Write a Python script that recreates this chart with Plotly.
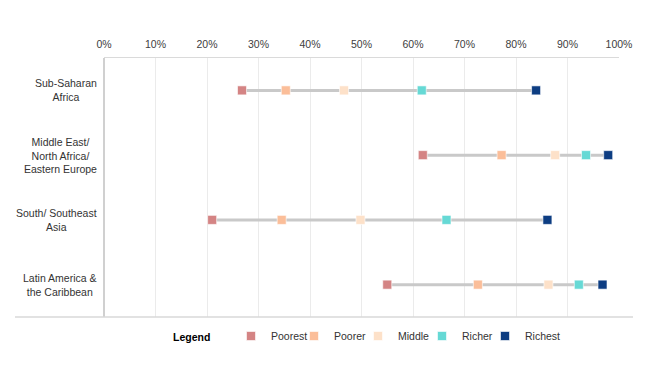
import plotly.graph_objects as go

regions = ["Sub-Saharan<br>Africa", "Middle East/<br>North Africa/<br>Eastern Europe",
           "South/ Southeast<br>Asia", "Latin America &<br>the Caribbean"]
quintiles = ["Poorest", "Poorer", "Middle", "Richer", "Richest"]
poorest = [26.8, 61.9, 21.0, 55.0]
poorer = [35.3, 77.2, 34.5, 72.6]
middle = [46.6, 87.6, 49.8, 86.3]
richer = [61.7, 93.6, 66.5, 92.2]
richest = [83.9, 97.9, 86.1, 96.8]
colors = ["#D48484", "#FBBE99", "#FDE1C9", "#66D9D5", "#0D3D82"]
series = [poorest, poorer, middle, richer, richest]

ypos = list(range(len(regions)))
FONT = "Liberation Sans, Arial"
FS = 10.5

# plot area in page pixels: x 104..619, y 58..317 (page has 8px body offset)
PX0, PW, PY1, PH = 104, 515, 317, 259
def px(x):
    return (x - PX0) / PW
def py(y):
    return (PY1 - y) / PH

fig = go.Figure()

lx, ly = [], []
for i in ypos:
    vals = [s[i] for s in series]
    lx += [min(vals), max(vals), None]
    ly += [i, i, None]
fig.add_trace(go.Scatter(x=lx, y=ly, mode="lines",
                         line=dict(color="#C9C9C9", width=3),
                         showlegend=False, hoverinfo="skip"))

legend_names = ["legend", "legend2", "legend3", "legend4", "legend5"]
for name, vals, c, lg in zip(quintiles, series, colors, legend_names):
    fig.add_trace(go.Scatter(x=vals, y=ypos, mode="markers", name=name, legend=lg,
                             marker=dict(symbol="square", size=9, color=c,
                                         line=dict(color="rgba(255,255,255,0.6)", width=1))))

for i, r in enumerate(regions):
    fig.add_annotation(x=px(98), xref="paper", y=i, yref="y", text=r,
                       xanchor="right", yanchor="middle", align="center",
                       showarrow=False, borderpad=0,
                       font=dict(family=FONT, size=FS, color="#333333"))

fig.add_annotation(x=px(172), xref="paper", y=py(337), yref="paper", text="<b>Legend</b>",
                   xanchor="left", yanchor="middle", showarrow=False, borderpad=0,
                   font=dict(family=FONT, size=FS, color="#000000"))

fig.add_shape(type="line", xref="paper", yref="paper", x0=px(15), x1=px(633), y0=0, y1=0,
              line=dict(color="#D9D9D9", width=1.5))

text_starts = [266, 329, 393, 457, 520]
legend_layout = {}
for lg, ts in zip(legend_names, text_starts):
    legend_layout[lg] = dict(orientation="h", x=px(ts - 35), y=py(336),
                             xanchor="left", yanchor="middle",
                             font=dict(family=FONT, size=FS, color="#333333"),
                             bgcolor="rgba(0,0,0,0)")

fig.update_layout(
    width=640, height=367,
    margin=dict(l=96, r=29, t=50, b=58),
    paper_bgcolor="white", plot_bgcolor="white",
    font=dict(family=FONT, size=FS, color="#404040"),
    xaxis=dict(side="top", range=[0, 100], dtick=10, ticksuffix="%",
               showgrid=True, gridcolor="#EBEBEB", gridwidth=1,
               showline=True, linecolor="#DADADA", linewidth=1, mirror=False,
               zeroline=True, zerolinecolor="#D0D0D0", zerolinewidth=1.5,
               ticks="", ticklabelstandoff=5,
               tickfont=dict(family=FONT, size=FS, color="#404040"), fixedrange=True),
    yaxis=dict(range=[3.5, -0.5], showgrid=False, zeroline=False, showticklabels=False,
               showline=False, fixedrange=True),
    showlegend=True,
    **legend_layout,
)

fig.write_html("out.html")
